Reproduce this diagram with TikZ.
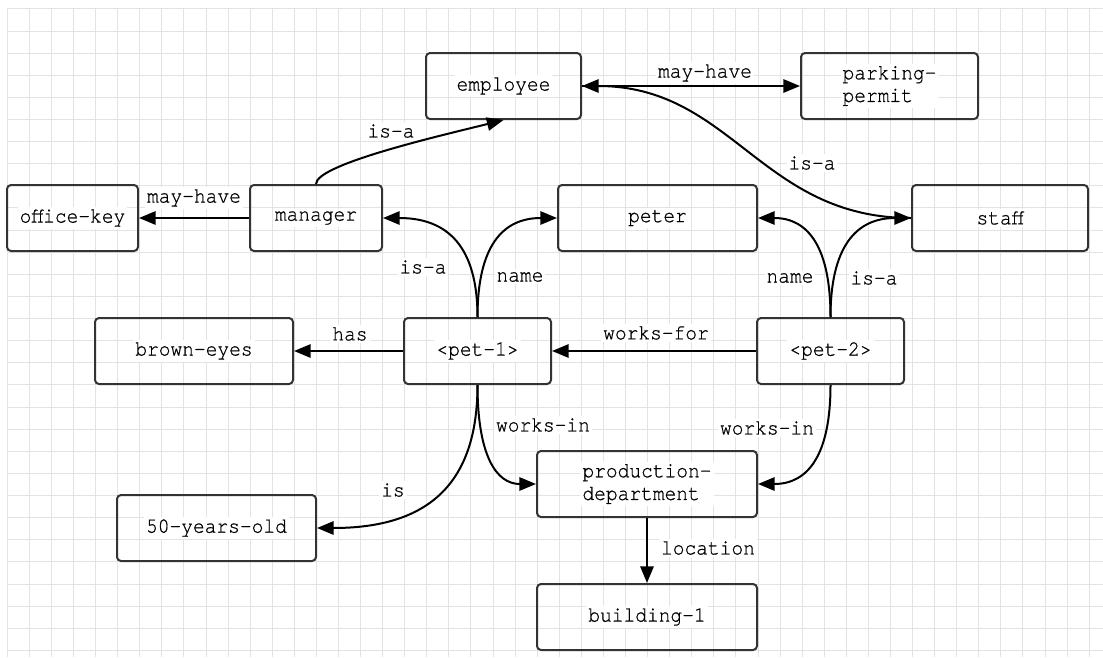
\documentclass[tikz,border=0pt]{standalone}
\usepackage{fontspec}
\newfontfamily\diagfont[FakeBold=0.6, FakeStretch=0.9]{texgyrecursor-regular.otf}
\usetikzlibrary{arrows.meta}

\begin{document}
\begin{tikzpicture}[x=0.75pt, y=-0.75pt,
  gridline/.style={draw=black!11, line width=0.75pt},
  txt/.style={font=\diagfont\fontsize{16.3pt}{17pt}\selectfont, text=black},
  boxtext/.style={txt, fill=white, inner sep=1.5pt, align=left},
  box/.style={draw=black!80, line width=1.5pt, rounded corners=3pt,
    minimum height=49.5pt, minimum width=#1*0.75pt, inner sep=0pt},
  lbl/.style={txt, fill=white, inner sep=1.5pt},
  edge/.style={draw=black, line width=1.5pt,
    -{Triangle[length=12.5pt, width=10pt]}}
]
\useasboundingbox (0,0) rectangle (1103,657);
\fill[white] (0,0) rectangle (1103,657);

% background grid
\foreach \i in {0,...,49}
  \draw[gridline] ({7.3+22.08*\i},8.9) -- ({7.3+22.08*\i},657);
\foreach \j in {0,...,29}
  \draw[gridline] (7.3,{8.9+22.12*\j}) -- (1103,{8.9+22.12*\j});

% concepts
\node[box=155, label={[boxtext]center:employee}] (emp) at (503.5,86) {};
\node[box=177, label={[boxtext]center:{parking-\\permit}}] (park) at (889.5,86) {};
\node[box=131, label={[boxtext]center:office-key}] (key) at (72.5,218) {};
\node[box=132, label={[boxtext]center:manager}] (mgr) at (316,218) {};
\node[box=199, label={[boxtext]center:peter}] (peter) at (657.5,218) {};
\node[box=176, label={[boxtext]center:staff}] (staff) at (1000,218) {};
\node[box=198, label={[boxtext]center:brown-eyes}] (brown) at (194,351) {};
\node[box=147, label={[boxtext]center:<pet-1>}] (p1) at (477.5,351) {};
\node[box=147, label={[boxtext]center:<pet-2>}] (p2) at (830.5,351) {};
\node[box=220, label={[boxtext]center:{production-\\department}}] (prod) at (647,484) {};
\node[box=199, label={[boxtext]center:50-years-old}] (fifty) at (216.5,528) {};
\node[box=220, label={[boxtext]center:building-1}] (bldg) at (647,617) {};

% relations
\draw[edge] (emp.east) -- (park.west);
\draw[edge] (mgr.north) .. controls +(0,-20) and +(-60,15) .. (emp.south);
\draw[edge] (staff.west) .. controls +(-150,0) and +(150,0) .. (emp.east);
\draw[edge] (mgr.west) -- (key.east);
\draw[edge] (p1.north) .. controls +(0,-70) and +(65,0) .. (mgr.east);
\draw[edge] (p1.north) .. controls +(0,-70) and +(-55,0) .. (peter.west);
\draw[edge] (p2.north) .. controls +(0,-70) and +(50,0) .. (peter.east);
\draw[edge] (p2.north) .. controls +(0,-70) and +(-55,0) .. (staff.west);
\draw[edge] (p1.west) -- (brown.east);
\draw[edge] (p2.west) -- (p1.east);
\draw[edge] (p1.south) .. controls +(0,70) and +(-40,0) .. (prod.west);
\draw[edge] (p2.south) .. controls +(0,70) and +(50,0) .. (prod.east);
\draw[edge] (p1.south) .. controls +(0,100) and +(110,0) .. (fifty.east);
\draw[edge] (prod.south) -- (bldg.north);

% relation names
\node[lbl] (l-mayhave1) at (705,73) {may-have};
\node[lbl] (l-isa1) at (391,131) {is-a};
\node[lbl] (l-isa2) at (812,163) {is-a};
\node[lbl] (l-mayhave2) at (194,198) {may-have};
\node[lbl] (l-isa3) at (423,267) {is-a};
\node[lbl] (l-name1) at (520,277) {name};
\node[lbl] (l-name2) at (790,278) {name};
\node[lbl] (l-isa4) at (874,278) {is-a};
\node[lbl] (l-has) at (350,334) {has};
\node[lbl] (l-worksfor) at (656,333) {works-for};
\node[lbl] (l-worksin1) at (543,425) {works-in};
\node[lbl] (l-worksin2) at (767,428) {works-in};
\node[lbl] (l-is) at (393,490) {is};
\node[lbl] (l-location) at (708,548) {location};
\end{tikzpicture}
\end{document}
